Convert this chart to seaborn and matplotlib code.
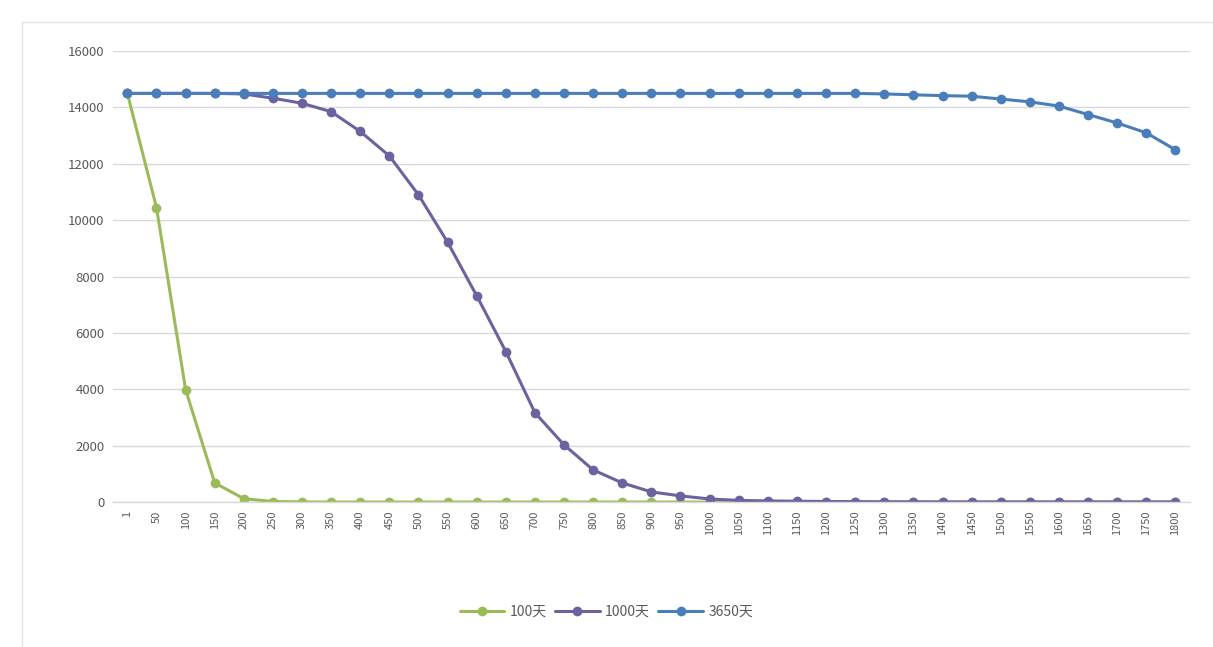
import numpy as np
import pandas as pd
import matplotlib
matplotlib.use("Agg")
import matplotlib.pyplot as plt
import seaborn as sns

# Day labels along the category axis
days = [1] + list(range(50, 1801, 50))

# Remaining quantity for each retention period
s100 = [14500, 10450, 3990, 680, 120, 20, 5, 0, 0, 0, 0, 0, 0, 0, 0, 0, 0, 0, 0,
        0, 0, 0, 0, 0, 0, 0, 0, 0, 0, 0, 0, 0, 0, 0, 0, 0, 0]
s1000 = [14500, 14500, 14500, 14500, 14480, 14330, 14150, 13850, 13150, 12280,
         10900, 9220, 7320, 5340, 3170, 2030, 1140, 680, 360, 220, 110, 60, 40,
         30, 20, 15, 10, 10, 5, 5, 5, 5, 5, 5, 5, 5, 5]
s3650 = [14500] * 26 + [14480, 14450, 14420, 14400, 14300, 14200, 14050,
                        13750, 13450, 13100, 12500]

series_names = ["100天", "1000天", "3650天"]
series_colors = ["#9BBB59", "#6B62A0", "#4A7EBB"]

df = pd.concat([
    pd.DataFrame({"idx": np.arange(len(days)), "value": vals, "series": name})
    for name, vals in zip(series_names, [s100, s1000, s3650])
], ignore_index=True)

sns.set_theme(style="white")
plt.rcParams["font.family"] = ["Noto Sans CJK SC", "DejaVu Sans"]

fig = plt.figure(figsize=(12.13, 6.47), dpi=100)

# Faint chart-area frame along the top and left
fig.add_artist(plt.Line2D([22 / 1213, 1.0], [1 - 22 / 647, 1 - 22 / 647],
                          color="#E3E3E3", linewidth=1.0, transform=fig.transFigure))
fig.add_artist(plt.Line2D([22 / 1213, 22 / 1213], [0.0, 1 - 22 / 647],
                          color="#E3E3E3", linewidth=1.0, transform=fig.transFigure))

ax = fig.add_axes([0.093, 0.224, 0.888, 0.697])

sns.lineplot(data=df, x="idx", y="value", hue="series", hue_order=series_names,
             palette=series_colors, marker="o", markersize=7, markeredgewidth=0,
             linewidth=2.2, sort=False, ax=ax, legend=False)

ax.set_xlim(-0.5, len(days) - 0.5)
ax.set_ylim(0, 16000)
ax.set_yticks(np.arange(0, 16001, 2000))
ax.set_yticklabels([str(v) for v in range(0, 16001, 2000)], color="#595959", fontsize=9.5)
ax.set_xticks(np.arange(len(days)))
ax.set_xticklabels([str(d) for d in days], rotation=90, color="#595959", fontsize=8)
ax.tick_params(axis="both", length=0, pad=6)
ax.set_xlabel("")
ax.set_ylabel("")

ax.grid(axis="y", color="#D9D9D9", linewidth=1.0)
ax.set_axisbelow(True)
for side in ["top", "right", "left"]:
    ax.spines[side].set_visible(False)
ax.spines["bottom"].set_color("#D9D9D9")
ax.spines["bottom"].set_linewidth(1.0)

handles = [plt.Line2D([], [], color=c, marker="o", markersize=7, markeredgewidth=0,
                      linewidth=2.2) for c in series_colors]
fig.legend(handles, series_names, loc="center", bbox_to_anchor=(0.5, 0.054),
           ncol=3, frameon=False, fontsize=10, handlelength=3.2,
           columnspacing=0.6, handletextpad=0.4, labelcolor="#595959")

fig.savefig("out.png", dpi=100, facecolor="white")
